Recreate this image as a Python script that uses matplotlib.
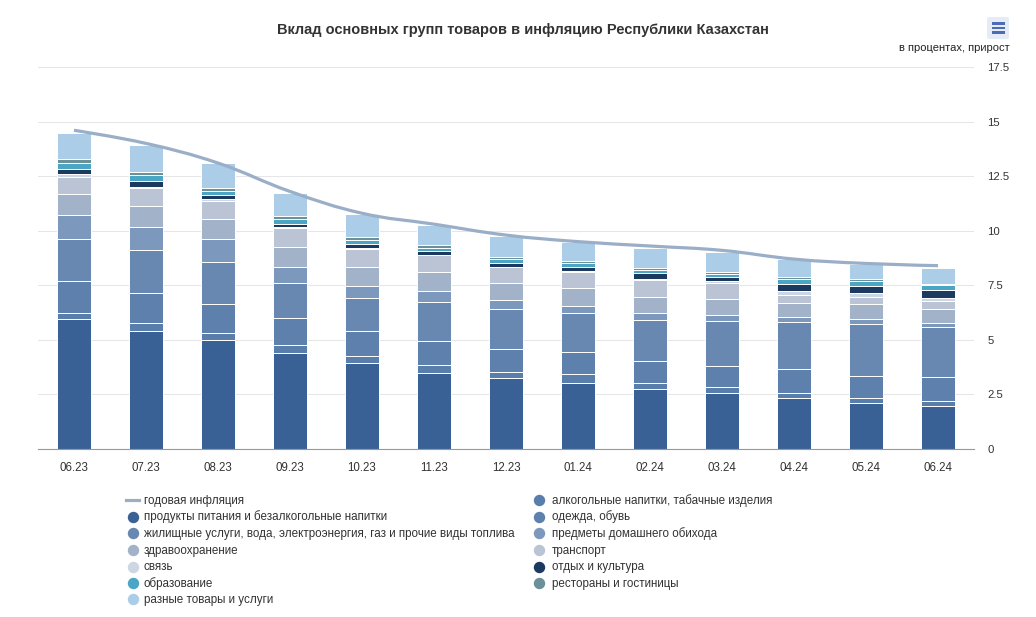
import matplotlib
matplotlib.use("Agg")
import matplotlib.pyplot as plt
from matplotlib.path import Path
from matplotlib.patches import PathPatch, FancyBboxPatch, Rectangle
from matplotlib.lines import Line2D
import numpy as np

plt.rcParams['font.family'] = ['Liberation Sans', 'DejaVu Sans']

# ---------------- data ----------------
months = ["06.23", "07.23", "08.23", "09.23", "10.23", "11.23", "12.23",
          "01.24", "02.24", "03.24", "04.24", "05.24", "06.24"]
inflation = [14.6, 14.0, 13.1, 11.8, 10.8, 10.3, 9.8, 9.5, 9.3, 9.1, 8.7, 8.5, 8.4]

food = [5.94, 5.42, 4.99, 4.41, 3.95, 3.50, 3.24, 3.04, 2.75, 2.58, 2.32, 2.09, 1.98]
alcohol = [0.31, 0.34, 0.31, 0.34, 0.33, 0.33, 0.27, 0.40, 0.26, 0.25, 0.23, 0.23, 0.22]
clothing = [1.45, 1.40, 1.33, 1.24, 1.14, 1.12, 1.07, 1.02, 1.02, 0.99, 1.10, 1.04, 1.08]
housing = [1.92, 1.96, 1.95, 1.63, 1.48, 1.80, 1.83, 1.79, 1.88, 2.06, 2.15, 2.35, 2.29]
household = [1.11, 1.04, 1.03, 0.73, 0.58, 0.50, 0.42, 0.32, 0.31, 0.26, 0.26, 0.23, 0.22]
health = [0.95, 0.97, 0.91, 0.92, 0.84, 0.84, 0.79, 0.79, 0.76, 0.72, 0.64, 0.70, 0.61]
transport = [0.80, 0.81, 0.84, 0.84, 0.84, 0.78, 0.70, 0.76, 0.76, 0.76, 0.35, 0.34, 0.38]
communication = [0.12, 0.05, 0.08, 0.06, 0.06, 0.04, 0.04, 0.05, 0.06, 0.07, 0.20, 0.15, 0.15]
recreation = [0.24, 0.27, 0.20, 0.16, 0.17, 0.15, 0.16, 0.17, 0.24, 0.17, 0.33, 0.36, 0.35]
education = [0.27, 0.28, 0.20, 0.22, 0.18, 0.16, 0.18, 0.20, 0.16, 0.17, 0.22, 0.20, 0.22]
restaurants = [0.17, 0.17, 0.12, 0.12, 0.12, 0.12, 0.08, 0.08, 0.08, 0.07, 0.10, 0.08, 0.08]
misc = [1.20, 1.22, 1.14, 1.04, 1.06, 0.92, 0.98, 0.88, 0.94, 0.94, 0.79, 0.69, 0.73]

names = {
    "line": "годовая инфляция",
    "food": "продукты питания и безалкогольные напитки",
    "alcohol": "алкогольные напитки, табачные изделия",
    "clothing": "одежда, обувь",
    "housing": "жилищные услуги, вода, электроэнергия, газ и прочие виды топлива",
    "household": "предметы домашнего обихода",
    "health": "здравоохранение",
    "transport": "транспорт",
    "communication": "связь",
    "recreation": "отдых и культура",
    "education": "образование",
    "restaurants": "рестораны и гостиницы",
    "misc": "разные товары и услуги",
}
colors = {
    "line": "#9aaec8",
    "food": "#3a6196",
    "alcohol": "#5a7eab",
    "clothing": "#5e80ad",
    "housing": "#6888b1",
    "household": "#7d98bd",
    "health": "#a2b2c9",
    "transport": "#bac4d5",
    "communication": "#cdd6e3",
    "recreation": "#1c3a5f",
    "education": "#4aa6c4",
    "restaurants": "#6c9097",
    "misc": "#abcde8",
}
stack = [("food", food), ("alcohol", alcohol), ("clothing", clothing),
         ("housing", housing), ("household", household), ("health", health),
         ("transport", transport), ("communication", communication),
         ("recreation", recreation), ("education", education),
         ("restaurants", restaurants), ("misc", misc)]

# ---------------- figure ----------------
W, H = 1036, 617
fig = plt.figure(figsize=(W / 100, H / 100), dpi=100)
left, right, top, bottom = 38, 974, 67, 449
ax = fig.add_axes([left / W, 1 - bottom / H, (right - left) / W, (bottom - top) / H])

x = np.arange(len(months))
base = np.zeros(len(months))
for key, vals in stack:
    v = np.array(vals)
    ax.bar(x, v, bottom=base, width=0.47, color=colors[key], edgecolor="white",
           linewidth=0.7, zorder=2)
    base += v

# Highcharts-style spline through the inflation points
def spline_path(xs, ys, smoothing=1.5):
    n = len(xs)
    denom = smoothing + 1
    lc = [None] * n
    rc = [None] * n
    for i in range(1, n - 1):
        px, py = xs[i], ys[i]
        lx, ly = xs[i - 1], ys[i - 1]
        nx, ny = xs[i + 1], ys[i + 1]
        lcx = (smoothing * px + lx) / denom
        lcy = (smoothing * py + ly) / denom
        rcx = (smoothing * px + nx) / denom
        rcy = (smoothing * py + ny) / denom
        corr = (rcy - lcy) * (rcx - px) / (rcx - lcx) + py - rcy
        lcy += corr
        rcy += corr
        if lcy > ly and lcy > py:
            lcy = max(ly, py); rcy = 2 * py - lcy
        elif lcy < ly and lcy < py:
            lcy = min(ly, py); rcy = 2 * py - lcy
        if rcy > ny and rcy > py:
            rcy = max(ny, py); lcy = 2 * py - rcy
        elif rcy < ny and rcy < py:
            rcy = min(ny, py); lcy = 2 * py - rcy
        lc[i] = (lcx, lcy)
        rc[i] = (rcx, rcy)
    verts = [(xs[0], ys[0])]
    codes = [Path.MOVETO]
    for i in range(1, n):
        c1 = rc[i - 1] if rc[i - 1] is not None else (xs[i - 1], ys[i - 1])
        c2 = lc[i] if lc[i] is not None else (xs[i], ys[i])
        verts += [c1, c2, (xs[i], ys[i])]
        codes += [Path.CURVE4] * 3
    return Path(verts, codes)

ax.add_patch(PathPatch(spline_path(list(x.astype(float)), inflation), facecolor="none",
                       edgecolor=colors["line"], linewidth=2.3, zorder=4,
                       capstyle="butt"))

ax.set_xlim(-0.5, len(months) - 0.5)
ax.set_ylim(0, 17.5)
ax.set_yticks([0, 2.5, 5, 7.5, 10, 12.5, 15, 17.5])
ax.set_yticklabels(["0", "2.5", "5", "7.5", "10", "12.5", "15", "17.5"])
ax.yaxis.tick_right()
ax.tick_params(axis="y", length=0, pad=9.5, labelsize=8.2, labelcolor="#333333")
ax.set_xticks(x)
ax.set_xticklabels(months)
ax.tick_params(axis="x", length=0, pad=9.5, labelsize=8.3, labelcolor="#333333")
ax.grid(axis="y", color="#e6e6e6", linewidth=0.75, zorder=0)
ax.set_axisbelow(True)
for s in ["top", "right", "left"]:
    ax.spines[s].set_visible(False)
ax.spines["bottom"].set_color("#999999")
ax.spines["bottom"].set_linewidth(0.8)
ax.spines["bottom"].set_zorder(5)

# ---------------- texts ----------------
fig.text(523 / W, 1 - 30 / H, "Вклад основных групп товаров в инфляцию Республики Казахстан",
         ha="center", va="center", fontsize=10.5, fontweight="bold", color="#333333")
fig.text(1010 / W, 1 - 48 / H, "в процентах, прирост", ha="right", va="center",
         fontsize=8, color="#222222")

# menu icon
fig.add_artist(FancyBboxPatch(((987) / W, 1 - 39 / H), 22 / W, 22 / H,
                              boxstyle="round,pad=0,rounding_size=0.003",
                              transform=fig.transFigure, facecolor="#e6ebf5",
                              edgecolor="none"))
for yy in [23.5, 28, 32.5]:
    fig.add_artist(Rectangle((992 / W, 1 - (yy + 1.2) / H), 13 / W, 2.4 / H,
                             transform=fig.transFigure, facecolor="#4b6cb7",
                             edgecolor="none"))

# ---------------- legend (manual, two columns, row-major) ----------------
legend_order = ["line", "alcohol", "food", "clothing", "housing", "household",
                "health", "transport", "communication", "recreation",
                "education", "restaurants", "misc"]
row_y = [500, 516.6, 533.3, 550, 566.5, 583, 599.4]
col_sym = [132.5, 539]
col_txt = [143.5, 551.5]
for idx, key in enumerate(legend_order):
    r, c = idx // 2, idx % 2
    yy = 1 - row_y[r] / H
    if key == "line":
        fig.add_artist(Line2D([126 / W, 139 / W], [yy, yy], transform=fig.transFigure,
                              color=colors[key], linewidth=2.3))
    else:
        fig.add_artist(Line2D([col_sym[c] / W], [yy], transform=fig.transFigure,
                              marker="o", markersize=7.2, color=colors[key],
                              linestyle="none"))
    fig.text(col_txt[c] / W, 1 - (row_y[r] + 3.6) / H, names[key], ha="left",
             va="baseline", fontsize=8.4, color="#333333")

fig.savefig("out.png", dpi=100)
